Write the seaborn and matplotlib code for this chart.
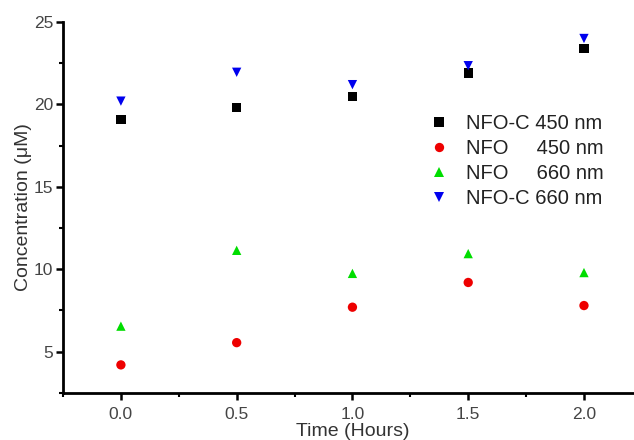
import pandas as pd
import matplotlib
matplotlib.use("Agg")
import matplotlib.pyplot as plt
from matplotlib.ticker import MultipleLocator, FormatStrFormatter
import seaborn as sns

# data
time_h = [0.0, 0.5, 1.0, 1.5, 2.0]
nfoc_450 = [19.1, 19.8, 20.5, 21.9, 23.4]
nfo_450 = [4.2, 5.55, 7.7, 9.2, 7.8]
nfo_660 = [6.55, 11.15, 9.75, 10.95, 9.8]
nfoc_660 = [20.2, 21.95, 21.2, 22.35, 24.0]

series = ["NFO-C 450 nm", "NFO     450 nm", "NFO     660 nm", "NFO-C 660 nm"]
values = [nfoc_450, nfo_450, nfo_660, nfoc_660]
colors = ["black", "#ee0000", "#00dd00", "#0000ee"]
markers = ["s", "o", "^", "v"]

df = pd.DataFrame({
    "Time": time_h * len(series),
    "Conc": [v for vals in values for v in vals],
    "Series": [s for s in series for _ in time_h],
})

sns.set_style("ticks")
plt.rcParams["font.family"] = ["Liberation Sans", "DejaVu Sans"]

fig = plt.figure(figsize=(6.34, 4.4), dpi=100)
ax = fig.add_axes([0.0994, 0.107, 0.913, 0.843])

sns.scatterplot(data=df, x="Time", y="Conc", hue="Series", style="Series",
                hue_order=series, style_order=series,
                palette=colors, markers=markers, s=45, linewidth=0, ax=ax)

ax.set_xlim(-0.25, 2.25)
ax.set_ylim(2.5, 25)
ax.xaxis.set_major_locator(MultipleLocator(0.5))
ax.xaxis.set_minor_locator(MultipleLocator(0.25))
ax.yaxis.set_major_locator(MultipleLocator(5))
ax.yaxis.set_minor_locator(MultipleLocator(2.5))
ax.set_yticks([5, 10, 15, 20, 25])
ax.xaxis.set_major_formatter(FormatStrFormatter("%.1f"))

for side in ["top", "right"]:
    ax.spines[side].set_visible(False)
for side in ["left", "bottom"]:
    ax.spines[side].set_linewidth(2)
    ax.spines[side].set_color("black")
ax.tick_params(which="major", direction="out", length=5, width=1.8, pad=2,
               labelsize=12.5, colors="black", labelcolor="#444444")
ax.tick_params(axis="x", which="major", pad=5)
ax.tick_params(which="minor", direction="out", length=3, width=1.5, colors="black")

ax.set_xlabel("Time (Hours)", fontsize=14, color="#333333", labelpad=1)
ax.set_ylabel("Concentration (\u03bcM)", fontsize=14, color="#333333", labelpad=1)

leg = ax.legend(loc="upper left", bbox_to_anchor=(0.6, 0.774), frameon=False,
                fontsize=14.5, handletextpad=0.35, labelspacing=0.3,
                markerscale=1.0, borderaxespad=0)
for t in leg.get_texts():
    t.set_color("#222222")

fig.savefig("out.png", dpi=100)
